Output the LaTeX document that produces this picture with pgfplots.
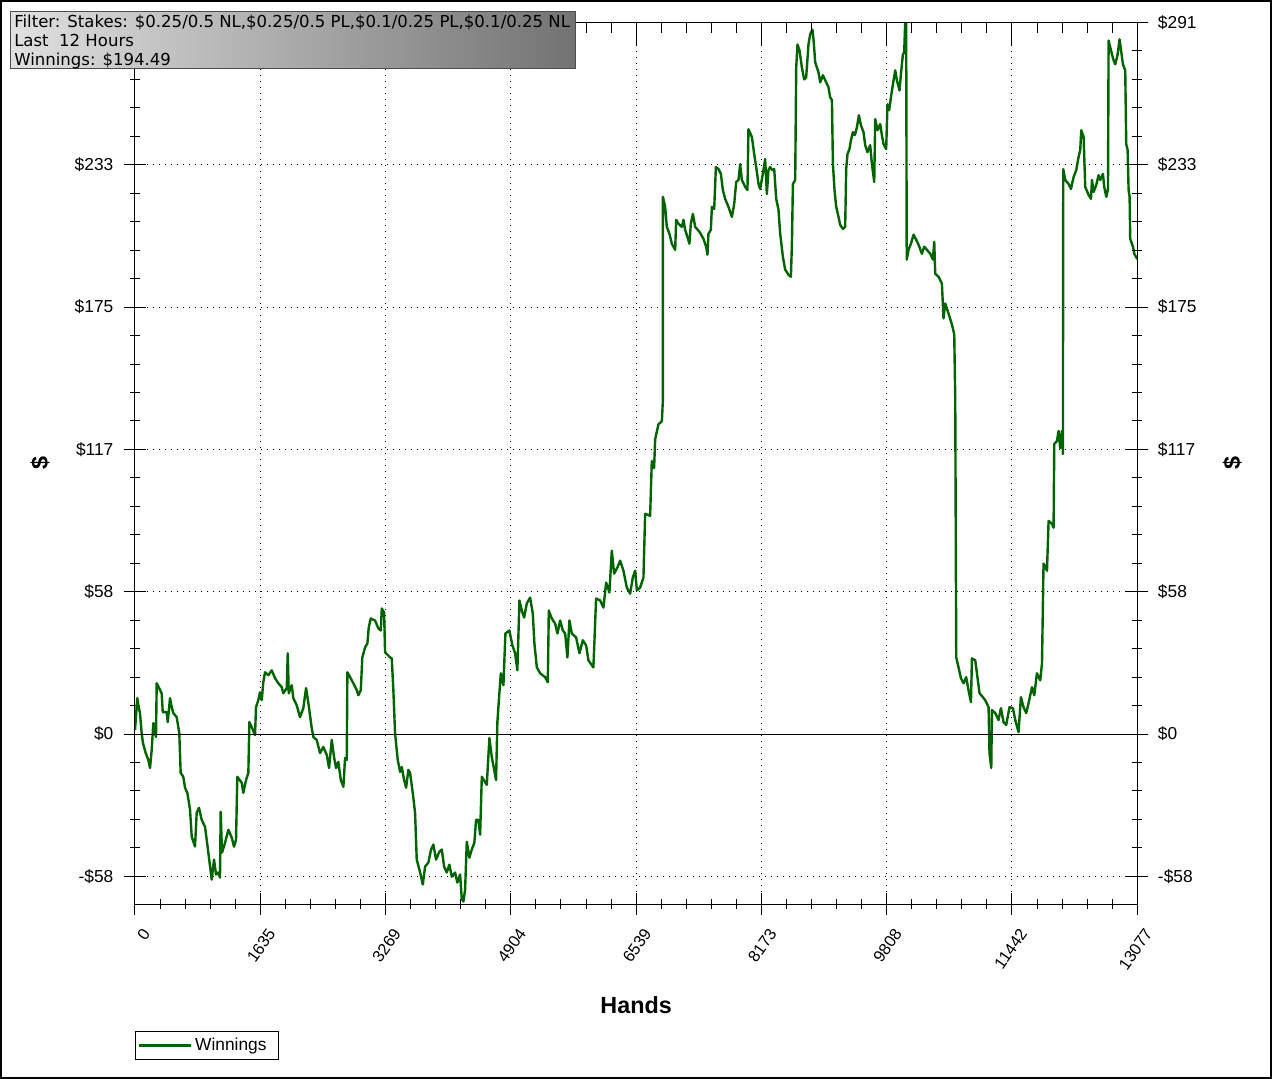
\documentclass[border=0pt]{standalone}
\usepackage{fontspec}
\setmainfont{Liberation Sans}
\newfontfamily\infofont{DejaVu Sans}
\usepackage{pgfplots}
\usepackage{pgfplotstable}
\pgfplotsset{compat=1.18}
\definecolor{wgreen}{RGB}{0,100,0}

\pgfplotstableread{
h w
0 1.6
30 14.7
43 11.8
65 8.6
87 0.4
104 -3.7
140 -7.8
174 -10.6
196 -13.9
218 -6.5
239 4.5
274 -1.2
283 20.8
348 16.7
362 9.0
414 9.0
427 4.9
457 14.7
479 11.0
500 8.6
544 6.9
578 0.4
596 -15.9
630 -17.5
653 -22.0
683 -24.1
718 -31.0
740 -42.0
783 -46.1
805 -32.2
835 -30.2
870 -35.1
914 -38.0
957 -48.6
1001 -59.6
1031 -51.4
1057 -57.5
1087 -56.7
1109 -58.8
1118 -31.8
1135 -48.6
1175 -44.5
1218 -39.2
1262 -42.4
1292 -46.1
1318 -43.3
1335 -17.5
1393 -20.0
1413 -24.1
1449 -18.8
1479 -15.9
1492 4.9
1523 2.9
1566 -0.4
1579 11.0
1609 13.9
1631 17.1
1654 13.9
1674 21.2
1697 25.3
1740 24.1
1784 26.1
1827 22.9
1870 20.8
1915 19.2
1935 16.7
1980 18.8
1993 33.1
2006 16.7
2045 20.0
2066 14.7
2110 11.8
2153 6.9
2196 10.6
2232 18.8
2262 12.7
2306 2.4
2327 -1.2
2371 -2.4
2414 -7.8
2458 -5.3
2502 -8.6
2532 -13.9
2567 -2.4
2597 -9.4
2623 -13.9
2653 -11.4
2685 -18.8
2719 -21.6
2741 -9.8
2763 -10.6
2771 25.3
2806 23.3
2849 20.8
2893 18.0
2914 15.9
2946 18.0
2966 31.4
3002 35.5
3032 37.1
3050 43.7
3076 47.3
3132 46.5
3175 43.3
3207 42.4
3220 51.4
3250 49.8
3263 33.5
3328 31.4
3350 31.0
3371 18.0
3393 0.4
3428 -10.6
3459 -15.5
3481 -13.5
3511 -18.8
3537 -22.0
3567 -14.7
3589 -15.9
3624 -24.1
3654 -32.2
3676 -51.4
3720 -56.7
3755 -61.6
3785 -54.3
3828 -52.6
3863 -47.3
3893 -45.3
3928 -51.4
3971 -48.2
4003 -47.3
4033 -54.3
4068 -56.7
4102 -53.5
4133 -58.4
4176 -56.7
4206 -60.8
4242 -57.5
4264 -67.7
4285 -68.6
4307 -63.7
4329 -44.1
4363 -50.6
4394 -47.3
4428 -44.5
4450 -35.1
4480 -35.1
4503 -41.2
4525 -17.5
4590 -20.8
4624 -1.6
4655 -9.4
4711 -18.8
4728 4.9
4754 16.7
4773 24.9
4807 20.0
4833 41.2
4885 42.4
4924 36.3
4959 33.1
4989 26.1
5016 54.7
5047 50.6
5077 47.7
5112 53.5
5155 55.9
5190 49.4
5211 37.1
5243 27.3
5286 24.9
5351 23.3
5386 21.2
5399 50.6
5438 47.3
5481 45.3
5512 41.2
5547 46.5
5582 42.4
5612 41.2
5642 31.4
5668 46.5
5699 41.2
5755 39.6
5799 33.1
5843 38.4
5886 36.3
5916 30.2
5981 27.3
6016 55.5
6069 54.7
6112 51.8
6147 62.0
6190 58.0
6221 75.1
6251 65.7
6294 68.2
6330 71.0
6373 66.9
6417 60.0
6460 57.5
6495 64.1
6526 66.9
6548 58.8
6591 60.0
6634 64.1
6656 90.2
6721 89.4
6743 111.8
6773 109.0
6787 120.8
6830 126.9
6874 128.1
6887 136.3
6888 220.0
6917 215.9
6939 207.7
6973 204.9
7004 200.8
7048 198.3
7061 210.6
7091 209.0
7135 207.7
7156 210.6
7178 206.5
7208 203.6
7234 200.8
7252 209.0
7279 213.0
7309 207.7
7365 205.7
7417 202.8
7452 199.6
7469 196.3
7482 204.9
7513 206.5
7527 215.9
7557 215.1
7579 232.2
7613 231.4
7644 229.4
7670 222.8
7700 219.2
7743 215.9
7788 211.8
7818 217.1
7844 226.1
7874 226.9
7896 233.4
7918 226.9
7961 224.1
7991 222.8
8004 247.7
8049 244.5
8079 237.5
8105 232.2
8135 225.3
8157 223.2
8200 231.0
8222 235.5
8244 221.2
8265 231.0
8287 232.2
8313 231.0
8340 231.4
8366 219.2
8396 214.7
8418 204.9
8453 195.5
8483 190.2
8526 188.1
8558 187.3
8571 200.8
8584 225.3
8614 226.9
8627 273.0
8644 282.4
8670 280.0
8701 273.0
8731 268.1
8757 268.9
8787 282.4
8809 286.5
8839 288.5
8853 284.5
8875 275.1
8918 271.0
8940 266.9
8975 269.8
9018 266.9
9048 264.9
9070 260.8
9093 259.6
9106 233.4
9127 222.8
9149 215.9
9179 211.8
9201 208.5
9236 206.9
9266 207.7
9279 231.4
9296 237.5
9322 239.6
9341 243.2
9367 246.5
9393 245.3
9419 248.5
9445 253.4
9471 249.4
9505 246.5
9527 241.2
9557 238.3
9592 241.2
9615 233.4
9645 226.1
9658 251.8
9688 247.3
9723 249.8
9745 245.3
9766 241.6
9801 239.6
9818 257.9
9840 255.5
9863 260.8
9889 266.1
9919 271.8
9941 267.7
9975 263.6
9993 270.2
10019 278.3
10036 279.1
10049 291.4
10062 291.4
10069 194.3
10092 198.3
10124 200.8
10158 204.5
10193 202.4
10223 200.4
10267 196.7
10297 199.6
10333 198.3
10376 196.7
10411 194.3
10428 201.6
10441 188.5
10484 187.3
10528 184.5
10549 170.2
10571 176.3
10615 172.2
10659 167.7
10689 163.7
10702 137.5
10715 31.4
10745 27.3
10776 22.9
10810 20.8
10845 23.3
10875 18.0
10907 13.1
10920 31.0
10963 30.2
10985 24.9
11019 16.7
11063 15.1
11093 13.9
11137 11.0
11149 -7.8
11172 -13.9
11181 9.8
11224 8.6
11267 5.7
11298 10.6
11332 4.9
11367 3.7
11410 11.0
11455 10.6
11485 5.7
11528 0.8
11559 15.1
11593 11.0
11628 8.6
11659 12.7
11703 19.2
11733 15.9
11768 24.9
11811 22.0
11834 29.0
11854 69.8
11899 66.9
11920 87.3
11964 86.1
11985 84.5
11994 118.8
12029 120.0
12050 124.1
12072 117.1
12094 124.1
12107 114.7
12111 231.4
12137 226.9
12181 225.3
12212 223.2
12246 228.1
12281 231.0
12311 236.3
12333 239.2
12346 247.3
12377 244.5
12398 224.1
12442 220.8
12473 219.2
12486 226.9
12507 222.0
12542 224.9
12572 228.9
12594 226.9
12629 229.4
12646 224.1
12673 220.0
12695 223.2
12703 284.0
12734 280.0
12768 275.9
12790 274.3
12820 278.3
12846 284.5
12864 280.4
12890 274.3
12920 271.8
12933 241.6
12951 239.2
12964 222.8
12977 220.0
12985 202.8
13021 199.6
13038 196.7
13077 194.49
}\winnings

\pgfplotsset{
  commonaxis/.style={
    at={(0,0)}, anchor=south west,
    scale only axis, width=751.7pt, height=661.1pt,
    xmin=0, xmax=13077, ymin=-69.6, ymax=291.4,
    xtick={0,1634.625,3269.25,4903.875,6538.5,8173.125,9807.75,11442.375,13077},
    ytick={-58.28,0,58.28,116.56,174.84,233.12,291.4},
    scaled x ticks=false, scaled y ticks=false,
    minor x tick num=4, minor y tick num=4,
    major tick length=16.5pt, minor tick length=7.5pt,
    every tick/.style={black, line width=0.75pt},
    axis line style={line width=0.75pt},
    tick label style={font=\fontsize{13}{15}\selectfont},
  },
}

\begin{document}
\begin{tikzpicture}
\useasboundingbox (-101.25pt,-131.25pt) rectangle (852.75pt,678pt);
\fill[white] (-101.25pt,-131.25pt) rectangle (852.75pt,678pt);
% main axis
\begin{axis}[commonaxis,
  tick align=center,
  xtick pos=left, ytick pos=left,
  xticklabels={0,1635,3269,4904,6539,8173,9808,11442,13077},
  yticklabels={-\$58,\$0,\$58,\$117,\$175,\$233,\$291},
  xticklabel style={xshift=10.5pt, yshift=-8.75pt, rotate=55, anchor=east, font=\fontsize{12.3}{14}\selectfont},
  yticklabel style={anchor=east, xshift=-4.5pt},
  grid=major,
  grid style={black, line width=0.75pt, dash pattern=on 0.75pt off 3.75pt},
  xlabel={\bfseries Hands},
  ylabel={\bfseries \$},
  x label style={at={(axis description cs:0.5,0)}, anchor=base, yshift=-82pt, font=\fontsize{17.5}{20}\selectfont},
  y label style={at={(axis description cs:0,0.5)}, anchor=center, xshift=0pt, yshift=71.25pt, font=\fontsize{17.5}{20}\selectfont},
  legend style={at={(0,0)}, anchor=north west, yshift=-95.25pt, draw=black, line width=0.75pt,
    font=\fontsize{13}{15}\selectfont, inner xsep=2pt, inner ysep=3pt},
  legend cell align=left,
  legend image code/.code={\draw[#1] (0pt,0pt) -- (30.75pt,0pt); \path (0pt,0pt) -- (39pt,0pt);},
]
\addplot[color=wgreen, line width=1.8pt, line join=round, mark=none] table[x=h, y=w] {\winnings};
\addlegendentry{\makebox[58.5pt][l]{Winnings}}
\draw[black, line width=0.75pt] (axis cs:0,0) -- (axis cs:13077,0);
\end{axis}
% right axis
\begin{axis}[commonaxis,
  tick align=center,
  axis y line*=right, hide x axis,
  yticklabel pos=right,
  yticklabels={-\$58,\$0,\$58,\$117,\$175,\$233,\$291},
  yticklabel style={anchor=west, xshift=3.75pt},
  ylabel={\bfseries \$},
  y label style={at={(axis description cs:1,0.5)}, anchor=center, yshift=-71.25pt, font=\fontsize{17.5}{20}\selectfont},
]
\end{axis}
% top axis ticks
\begin{axis}[commonaxis,
  tick align=inside,
  axis x line*=top, hide y axis,
  xticklabels={},
]
\end{axis}
% frame
\draw[black, line width=1.5pt] (-100.5pt,-130.5pt) rectangle (852pt,677.25pt);
% info box
\shade[left color=black!12, right color=black!55] (-93pt,626.25pt) rectangle (330pt,669pt);
\draw[black!70, line width=0.75pt] (-93pt,626.25pt) rectangle (330pt,669pt);
\node[anchor=base west, inner sep=0pt, font=\infofont\fontsize{12.4}{14}\selectfont] at (-90.75pt,657pt) {Filter: Stakes: \$0.25/0.5 NL,\$0.25/0.5 PL,\$0.1/0.25 PL,\$0.1/0.25 NL};
\node[anchor=base west, inner sep=0pt, font=\infofont\fontsize{12.4}{14}\selectfont] at (-90.75pt,643pt) {Last\ \ 12 Hours};
\node[anchor=base west, inner sep=0pt, font=\infofont\fontsize{12.4}{14}\selectfont] at (-90.75pt,629.2pt) {Winnings: \$194.49};
\end{tikzpicture}
\end{document}
